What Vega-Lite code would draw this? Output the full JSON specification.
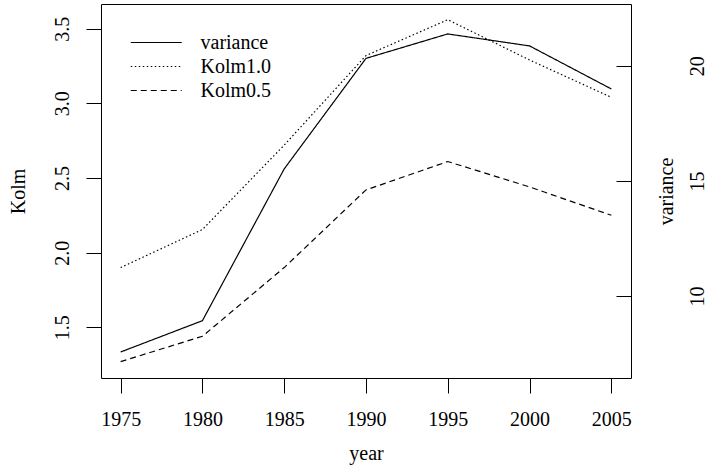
{
  "$schema": "https://vega.github.io/schema/vega-lite/v6.json",
  "width": 530,
  "height": 374,
  "autosize": {"type": "none"},
  "padding": {"left": 101, "top": 4, "right": 78, "bottom": 90},
  "background": "white",
  "config": {
    "font": "Liberation Serif",
    "view": {"stroke": "black", "strokeWidth": 1},
    "axis": {
      "grid": false,
      "domain": false,
      "tickColor": "black",
      "tickWidth": 1,
      "labelFont": "Liberation Serif",
      "labelFontSize": 20,
      "labelColor": "black",
      "titleFont": "Liberation Serif",
      "titleFontSize": 20,
      "titleFontWeight": "normal",
      "titleColor": "black",
      "labelOverlap": false,
      "labelFlush": false
    },
    "legend": {
      "labelFont": "Liberation Serif",
      "labelFontSize": 20,
      "labelColor": "black"
    }
  },
  "data": {
    "values": [
      {"year": 1975, "series": "variance", "value": 7.57},
      {"year": 1980, "series": "variance", "value": 8.93},
      {"year": 1985, "series": "variance", "value": 15.52},
      {"year": 1990, "series": "variance", "value": 20.32},
      {"year": 1995, "series": "variance", "value": 21.38},
      {"year": 2000, "series": "variance", "value": 20.86},
      {"year": 2005, "series": "variance", "value": 18.99},
      {"year": 1975, "series": "Kolm1.0", "value": 1.90},
      {"year": 1980, "series": "Kolm1.0", "value": 2.155},
      {"year": 1985, "series": "Kolm1.0", "value": 2.72},
      {"year": 1990, "series": "Kolm1.0", "value": 3.32},
      {"year": 1995, "series": "Kolm1.0", "value": 3.56},
      {"year": 2000, "series": "Kolm1.0", "value": 3.29},
      {"year": 2005, "series": "Kolm1.0", "value": 3.04},
      {"year": 1975, "series": "Kolm0.5", "value": 1.27},
      {"year": 1980, "series": "Kolm0.5", "value": 1.44},
      {"year": 1985, "series": "Kolm0.5", "value": 1.90},
      {"year": 1990, "series": "Kolm0.5", "value": 2.42},
      {"year": 1995, "series": "Kolm0.5", "value": 2.61},
      {"year": 2000, "series": "Kolm0.5", "value": 2.44},
      {"year": 2005, "series": "Kolm0.5", "value": 2.25}
    ]
  },
  "encoding": {
    "x": {
      "field": "year",
      "type": "quantitative",
      "scale": {"domain": [1973.8, 2006.2], "nice": false, "zero": false},
      "axis": {
        "title": "year",
        "values": [1975, 1980, 1985, 1990, 1995, 2000, 2005],
        "format": "d",
        "tickSize": 15,
        "labelPadding": 16,
        "titleBaseline": "alphabetic",
        "titleY": 81
      }
    },
    "strokeDash": {
      "field": "series",
      "type": "nominal",
      "scale": {
        "domain": ["variance", "Kolm1.0", "Kolm0.5"],
        "range": [[1, 0], [1.5, 2.5], [6, 4]]
      },
      "legend": {
        "title": null,
        "orient": "none",
        "legendX": 41.75,
        "legendY": 25,
        "padding": 0,
        "symbolType": "M-2,0H2",
        "symbolSize": 650,
        "symbolStrokeWidth": 1.2,
        "symbolStrokeColor": "black",
        "labelOffset": 30.75,
        "rowPadding": 0
      }
    }
  },
  "layer": [
    {
      "transform": [{"filter": "datum.series === 'variance'"}],
      "mark": {"type": "line", "color": "black", "strokeWidth": 1.2},
      "encoding": {
        "y": {
          "field": "value",
          "type": "quantitative",
          "scale": {"domain": [6.441, 22.68], "nice": false, "zero": false},
          "axis": {
            "orient": "right",
            "title": "variance",
            "values": [10, 15, 20],
            "format": "d",
            "tickSize": -15,
            "labelAngle": 270,
            "labelAlign": "center",
            "labelBaseline": "alphabetic",
            "labelPadding": 87,
            "titleAngle": 270,
            "titleBaseline": "alphabetic",
            "titleX": 41
          }
        }
      }
    },
    {
      "transform": [{"filter": "datum.series !== 'variance'"}],
      "mark": {"type": "line", "color": "black", "strokeWidth": 1.2},
      "encoding": {
        "y": {
          "field": "value",
          "type": "quantitative",
          "scale": {"domain": [1.1605, 3.665], "nice": false, "zero": false},
          "axis": {
            "orient": "left",
            "title": "Kolm",
            "values": [1.5, 2.0, 2.5, 3.0, 3.5],
            "format": ".1f",
            "tickSize": 15,
            "labelAngle": 270,
            "labelAlign": "center",
            "labelBaseline": "alphabetic",
            "labelPadding": 18,
            "titleAngle": 270,
            "titleBaseline": "alphabetic",
            "titleX": -77
          }
        }
      }
    }
  ],
  "resolve": {"scale": {"y": "independent"}}
}
